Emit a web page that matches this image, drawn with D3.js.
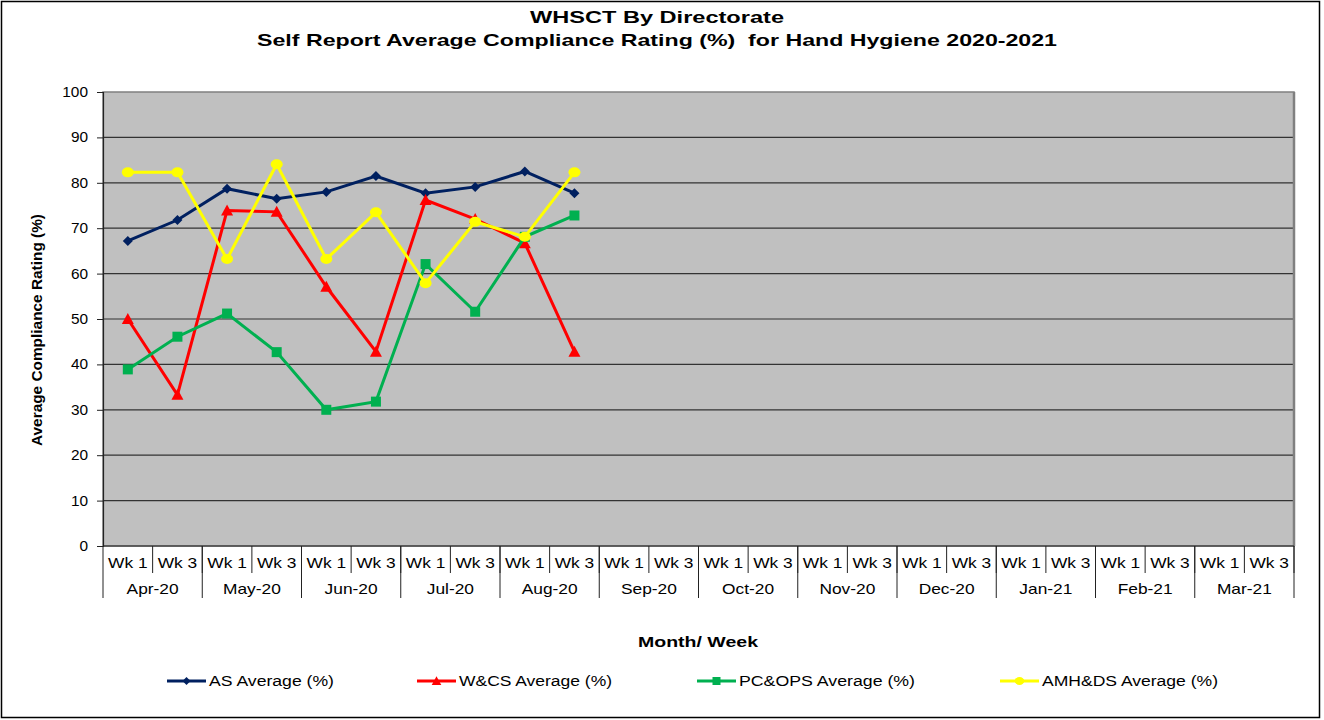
<!DOCTYPE html>
<html><head><meta charset="utf-8">
<script src="https://cdn.jsdelivr.net/npm/d3@7"></script>
<style>body{margin:0;background:#fff}svg{display:block}text{font-family:"Liberation Sans",Arial,sans-serif}</style>
</head><body><svg id="c" width="1324" height="720"></svg>
<script>
const months = ["Apr-20","May-20","Jun-20","Jul-20","Aug-20","Sep-20","Oct-20","Nov-20","Dec-20","Jan-21","Feb-21","Mar-21"];
const weeks = ["Wk 1","Wk 3"];
const yTicks = [0,10,20,30,40,50,60,70,80,90,100];
const asAvg   = [67.2,71.8,78.7,76.5,78.0,81.5,77.7,79.1,82.5,77.7];
const wcsAvg  = [50.0,33.3,73.9,73.6,57.1,42.8,76.2,72.0,66.7,42.8];
const pcopsAvg= [38.9,46.1,51.2,42.7,30.0,31.8,62.1,51.6,68.1,72.8];
const amhdsAvg= [82.3,82.3,63.2,84.1,63.2,73.5,57.9,71.4,68.1,82.3];
const seriesNames = ["AS Average (%)","W&CS Average (%)","PC&OPS Average (%)","AMH&DS Average (%)"];
const seriesColors = ["#002060","#FF0000","#00B050","#FFFF00"];
const seriesMarks = ["diamond","triangle","square","circle"];
const seriesData = [asAvg,wcsAvg,pcopsAvg,amhdsAvg];

const svg = d3.select("#c");
const L=103,R=1294,T=92,B=546;
const SX=1.24;
const cats = [];
months.forEach(m=>weeks.forEach(w=>cats.push(m+"|"+w)));
const x = d3.scaleBand().domain(cats).range([L,R]);
const xm = d3.scaleBand().domain(months).range([L,R]);
const y = d3.scaleLinear().domain([0,100]).range([B,T]);

// outer border
svg.append("rect").attr("x",1.5).attr("y",1.5).attr("width",1318).attr("height",716).attr("fill","#fff").attr("stroke","#000").attr("stroke-width",1.5);

// plot bg
svg.append("rect").attr("x",L).attr("y",T).attr("width",R-L).attr("height",B-T).attr("fill","#C0C0C0");
// grid
svg.append("g").selectAll("line").data(yTicks.filter(d=>d>0&&d<100)).join("line")
  .attr("x1",L).attr("x2",R).attr("y1",d=>y(d)).attr("y2",d=>y(d)).attr("stroke","#333").attr("stroke-width",1.2);
// plot border
svg.append("rect").attr("x",L).attr("y",T).attr("width",R-L).attr("height",B-T).attr("fill","none").attr("stroke","#808080").attr("stroke-width",1.5);
svg.append("line").attr("x1",R).attr("x2",R).attr("y1",T).attr("y2",B).attr("stroke","#808080").attr("stroke-width",2.5);

// y axis
const ya = svg.append("g").attr("transform",`translate(${L},0)`).call(d3.axisLeft(y).tickValues(yTicks).tickSize(6).tickPadding(9));
ya.select(".domain").attr("stroke","#222").attr("stroke-width",1.2);
ya.selectAll(".tick line").attr("stroke","#222");
ya.selectAll(".tick text").attr("font-size",14).attr("fill","#000")
  .attr("transform","translate(-15,0) scale(1.1,1) translate(15,0)");

// x axis: baseline
svg.append("line").attr("x1",L).attr("x2",R).attr("y1",B).attr("y2",B).attr("stroke","#222").attr("stroke-width",1.2);
const gx = svg.append("g");
gx.selectAll("text.wk").data(cats).join("text").attr("class","wk")
  .attr("transform",d=>`translate(${x(d)+x.bandwidth()/2},568) scale(${SX},1)`).attr("text-anchor","middle").attr("font-size",14).text(d=>d.split("|")[1]);
gx.selectAll("line.wd").data(cats).join("line").attr("class","wd")
  .attr("x1",d=>x(d)+x.bandwidth()).attr("x2",d=>x(d)+x.bandwidth()).attr("y1",B).attr("y2",573).attr("stroke","#222");
gx.selectAll("line.md").data([null,...months]).join("line").attr("class","md")
  .attr("x1",d=>d===null?L:xm(d)+xm.bandwidth()).attr("x2",d=>d===null?L:xm(d)+xm.bandwidth()).attr("y1",B).attr("y2",598).attr("stroke","#222");
gx.selectAll("text.mo").data(months).join("text").attr("class","mo")
  .attr("transform",d=>`translate(${xm(d)+xm.bandwidth()/2},594) scale(${SX},1)`).attr("text-anchor","middle").attr("font-size",14).text(d=>d);

// titles
svg.append("text").attr("x",657).attr("y",23).attr("text-anchor","middle").attr("font-size",17).attr("font-weight","bold").attr("textLength",254).attr("lengthAdjust","spacingAndGlyphs").text("WHSCT By Directorate");
svg.append("text").attr("x",657).attr("y",46).attr("text-anchor","middle").attr("font-size",17).attr("font-weight","bold").style("white-space","pre").attr("textLength",800).attr("lengthAdjust","spacingAndGlyphs").text("Self Report Average Compliance Rating (%)  for Hand Hygiene 2020-2021");
svg.append("text").attr("transform","translate(42,330) rotate(-90)").attr("text-anchor","middle").attr("font-size",14).attr("font-weight","bold").attr("textLength",232).attr("lengthAdjust","spacingAndGlyphs").text("Average Compliance Rating (%)");
svg.append("text").attr("x",698).attr("y",647).attr("text-anchor","middle").attr("font-size",15).attr("font-weight","bold").attr("textLength",120).attr("lengthAdjust","spacingAndGlyphs").text("Month/ Week");

// markers
function marker(g,type,color,cx,cy,s){
  s = s||1;
  if(type==="diamond") g.append("path").attr("d",`M${cx},${cy-5*s}L${cx+5*s},${cy}L${cx},${cy+5*s}L${cx-5*s},${cy}Z`).attr("fill",color);
  else if(type==="triangle") g.append("path").attr("d",`M${cx},${cy-6*s}L${cx+6*s},${cy+5*s}L${cx-6*s},${cy+5*s}Z`).attr("fill",color);
  else if(type==="square") g.append("rect").attr("x",cx-5*s).attr("y",cy-5*s).attr("width",10*s).attr("height",10*s).attr("fill",color);
  else g.append("ellipse").attr("cx",cx).attr("cy",cy).attr("rx",6*s).attr("ry",5*s).attr("fill",color);
}
const line = d3.line().x((d,i)=>x(cats[i])+x.bandwidth()/2).y(d=>y(d));
seriesData.forEach((data,si)=>{
  const g = svg.append("g");
  g.append("path").attr("d",line(data)).attr("fill","none").attr("stroke",seriesColors[si]).attr("stroke-width",3);
  data.forEach((v,i)=>marker(g,seriesMarks[si],seriesColors[si],x(cats[i])+x.bandwidth()/2,y(v)));
});

// legend
const legX=[167,417,697,1000];
const legW=[125,153,176,176];
seriesNames.forEach((n,si)=>{
  const g=svg.append("g");
  const ly=681;
  g.append("line").attr("x1",legX[si]).attr("x2",legX[si]+39).attr("y1",ly).attr("y2",ly).attr("stroke",seriesColors[si]).attr("stroke-width",3);
  marker(g,seriesMarks[si],seriesColors[si],legX[si]+19.5,ly,0.8);
  g.append("text").attr("x",legX[si]+42).attr("y",ly+5).attr("font-size",14).attr("textLength",legW[si]).attr("lengthAdjust","spacingAndGlyphs").text(n);
});
</script></body></html>
